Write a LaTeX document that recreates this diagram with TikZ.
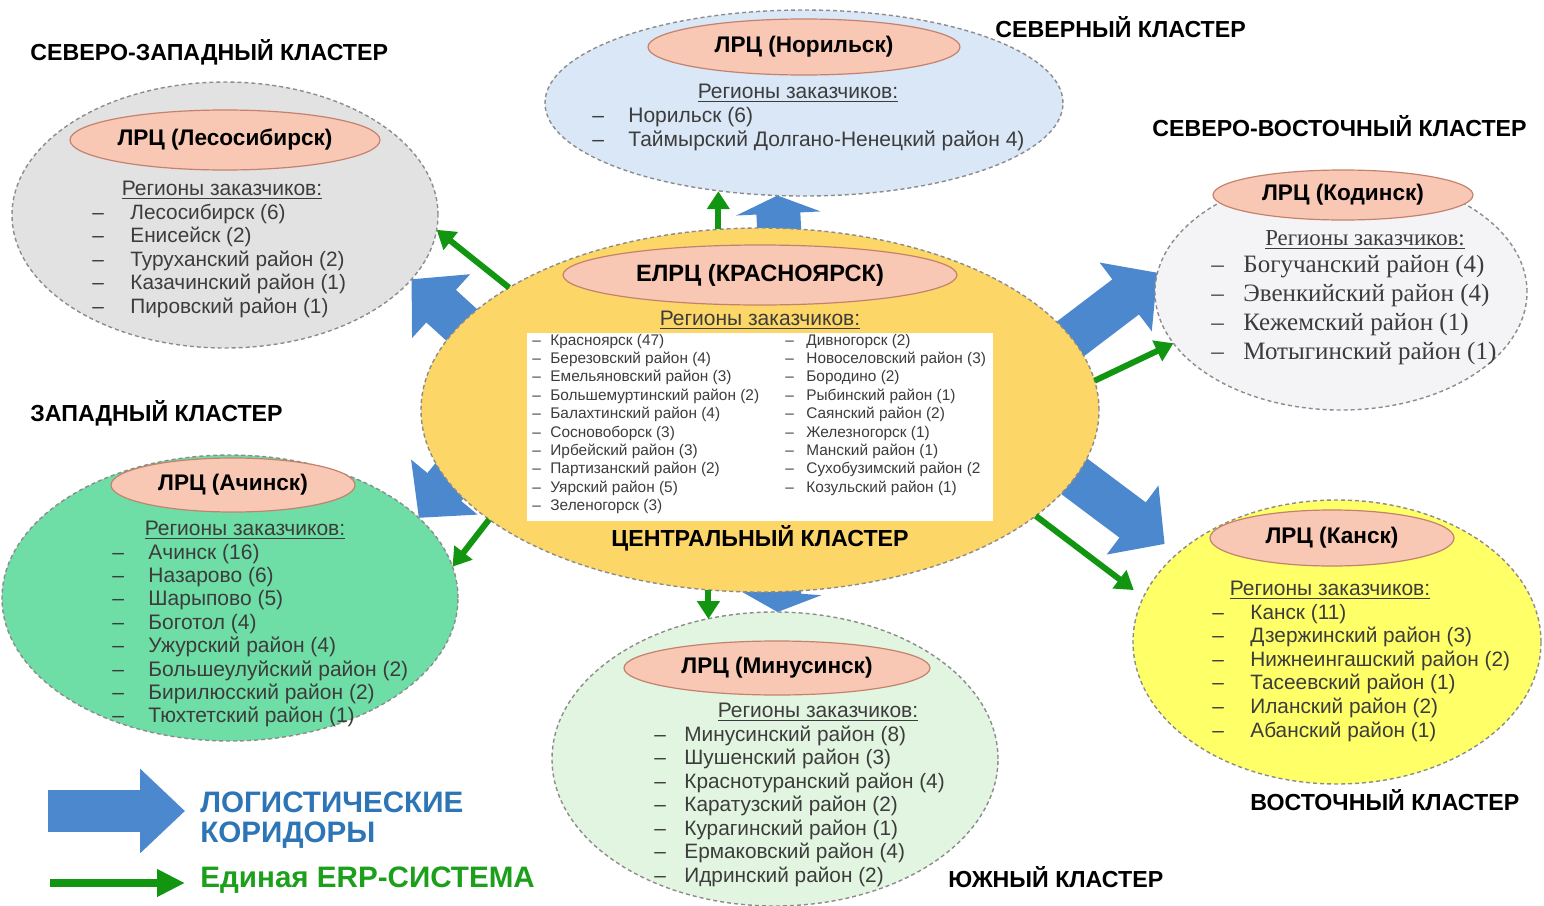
\documentclass[tikz,border=0pt]{standalone}
\usepackage{fontspec}
\setmainfont{Liberation Sans}
\newfontfamily\timesru{Liberation Serif}
\usetikzlibrary{positioning,arrows.meta,backgrounds,shapes.geometric}

\definecolor{fillNW}{RGB}{226,226,226}
\definecolor{fillN}{RGB}{218,231,246}
\definecolor{fillNE}{RGB}{244,244,246}
\definecolor{fillCen}{RGB}{253,214,104}
\definecolor{fillW}{RGB}{110,221,166}
\definecolor{fillS}{RGB}{226,245,224}
\definecolor{fillE}{RGB}{255,255,104}
\definecolor{pinkFill}{RGB}{248,200,180}
\definecolor{pinkLine}{RGB}{196,130,110}
\definecolor{clLine}{RGB}{140,140,140}
\definecolor{txGrey}{RGB}{60,60,60}
\definecolor{arBlue}{RGB}{76,136,206}
\definecolor{arGreen}{RGB}{18,150,18}
\definecolor{txBlue}{RGB}{46,117,182}
\definecolor{txGreen}{RGB}{28,160,28}

\newcommand{\itm}[2][15pt]{\makebox[#1][l]{–}#2}
\newcommand{\rows}[1]{\begin{tabular}[t]{@{}l@{}}#1\end{tabular}}

\begin{document}
\begin{tikzpicture}[x=0.5pt, y=-0.5pt,
  cluster/.style={ellipse, draw=clLine, line width=0.7pt, dash pattern=on 2pt off 1.5pt, inner sep=0pt, outer sep=0pt},
  lrc/.style={ellipse, draw=pinkLine, fill=pinkFill, line width=0.6pt, inner sep=1pt, font=\fontsize{11.3}{13}\selectfont\bfseries},
  hdr/.style={inner sep=0pt, text=txGrey, font=\fontsize{10.5}{12}\selectfont},
  lst/.style={anchor=base west, inner sep=0pt, text=txGrey, font=\fontsize{10.4}{11.75}\selectfont},
  cname/.style={anchor=west, inner sep=0pt, font=\fontsize{11.6}{13}\selectfont\bfseries},
  corridor/.style={draw=arBlue, line width=22pt, shorten <=-30pt, -{Triangle[length=#1,width=42pt]}},
  corridor/.default=20pt,
  erp/.style={draw=arGreen, line width=3pt, -{Triangle[length=9pt,width=11pt]}}
]
\useasboundingbox (0,0) rectangle (1544,906);

\node[cluster, fill=fillNW, minimum width=213pt, minimum height=133pt] (nw) at (225,215) {};
\node[cluster, fill=fillN, minimum width=259pt, minimum height=93pt] (nor) at (804,103) {};
\node[cluster, fill=fillNE, minimum width=186pt, minimum height=118pt] (ne) at (1341,292) {};
\node[cluster, fill=fillCen, minimum width=339pt, minimum height=182pt] (cen) at (760,410) {};
\node[cluster, fill=fillW, minimum width=228pt, minimum height=143pt] (wst) at (230,598) {};
\node[cluster, fill=fillS, minimum width=223pt, minimum height=147pt] (sou) at (775,759) {};
\node[cluster, fill=fillE, minimum width=204pt, minimum height=142pt] (est) at (1337,642) {};

\node[cname] (nwN) at (30,52) {СЕВЕРО-ЗАПАДНЫЙ КЛАСТЕР};
\node[cname] (norN) at (995,27) {СЕВЕРНЫЙ КЛАСТЕР};
\node[cname] (neN) at (1152,126) {СЕВЕРО-ВОСТОЧНЫЙ КЛАСТЕР};
\node[cname] (wstN) at (30,413) {ЗАПАДНЫЙ КЛАСТЕР};
\node[cname] (souN) at (948,877) {ЮЖНЫЙ КЛАСТЕР};
\node[cname] (estN) at (1250,800) {ВОСТОЧНЫЙ КЛАСТЕР};
\node[cname, anchor=center] (cenN) at (760,538) {ЦЕНТРАЛЬНЫЙ КЛАСТЕР};

\node[lrc, minimum width=155pt, minimum height=30pt] (nwL) at (225,140) {ЛРЦ (Лесосибирск)};
\node[lrc, minimum width=156pt, minimum height=28pt] (norL) at (804,47) {ЛРЦ (Норильск)};
\node[lrc, minimum width=130pt, minimum height=25pt] (neL) at (1343,195) {ЛРЦ (Кодинск)};
\node[lrc, minimum width=197pt, minimum height=30pt, font=\fontsize{11.8}{13}\selectfont\bfseries] (cenL) at (760,275) {ЕЛРЦ (КРАСНОЯРСК)};
\node[lrc, minimum width=122pt, minimum height=27pt] (wstL) at (233,485) {ЛРЦ (Ачинск)};
\node[lrc, minimum width=153pt, minimum height=27pt] (souL) at (777,668) {ЛРЦ (Минусинск)};
\node[lrc, minimum width=122pt, minimum height=28pt] (estL) at (1332,538) {ЛРЦ (Канск)};

\node[hdr] (nwH) at (222,190) {\underline{Регионы заказчиков:}};
\node[hdr] (norH) at (798,93) {\underline{Регионы заказчиков:}};
\node[hdr, font=\timesru\fontsize{11.4}{13}\selectfont] (neH) at (1365,240) {\underline{Регионы заказчиков:}};
\node[hdr] (cenH) at (760,320) {\underline{Регионы заказчиков:}};
\node[hdr] (wstH) at (245,530) {\underline{Регионы заказчиков:}};
\node[hdr] (souH) at (818,712) {\underline{Регионы заказчиков:}};
\node[hdr] (estH) at (1330,590) {\underline{Регионы заказчиков:}};

\node[lst] (nwR) at (92,219) {\rows{\itm[19pt]{Лесосибирск (6)}\\ \itm[19pt]{Енисейск (2)}\\
  \itm[19pt]{Туруханский район (2)}\\ \itm[19pt]{Казачинский район (1)}\\ \itm[19pt]{Пировский район (1)}}};
\node[lst, font=\fontsize{10.5}{12}\selectfont] (norR) at (592,122) {\rows{\itm[18pt]{Норильск (6)}\\
  \itm[18pt]{Таймырский Долгано-Ненецкий район 4)}}};
\node[lst, font=\timesru\fontsize{12.5}{14.5}\selectfont] (neR) at (1211,272) {\rows{\itm[16pt]{Богучанский район (4)}\\
  \itm[16pt]{Эвенкийский район (4)}\\ \itm[16pt]{Кежемский район (1)}\\ \itm[16pt]{Мотыгинский район (1)}}};
\node[lst, font=\fontsize{10.5}{11.7}\selectfont] (wstR) at (112,559) {\rows{\itm[18pt]{Ачинск (16)}\\ \itm[18pt]{Назарово (6)}\\
  \itm[18pt]{Шарыпово (5)}\\ \itm[18pt]{Боготол (4)}\\ \itm[18pt]{Ужурский район (4)}\\
  \itm[18pt]{Большеулуйский район (2)}\\ \itm[18pt]{Бирилюсский район (2)}\\ \itm[18pt]{Тюхтетский район (1)}}};
\node[lst] (souR) at (654,741) {\rows{\itm[15pt]{Минусинский район (8)}\\ \itm[15pt]{Шушенский район (3)}\\
  \itm[15pt]{Краснотуранский район (4)}\\ \itm[15pt]{Каратузский район (2)}\\ \itm[15pt]{Курагинский район (1)}\\
  \itm[15pt]{Ермаковский район (4)}\\ \itm[15pt]{Идринский район (2)}}};
\node[lst, font=\fontsize{10.4}{11.8}\selectfont] (estR) at (1212,619) {\rows{\itm[19pt]{Канск (11)}\\ \itm[19pt]{Дзержинский район (3)}\\
  \itm[19pt]{Нижнеингашский район (2)}\\ \itm[19pt]{Тасеевский район (1)}\\ \itm[19pt]{Иланский район (2)}\\
  \itm[19pt]{Абанский район (1)}}};

\node[fill=white, inner sep=0pt, minimum width=233pt, minimum height=94pt] (cenBox) at (760,427) {};
\node[lst, font=\fontsize{7.7}{9.2}\selectfont] (cenR1) at (532,345) {\rows{\itm[9pt]{Красноярск (47)}\\
  \itm[9pt]{Березовский район (4)}\\ \itm[9pt]{Емельяновский район (3)}\\ \itm[9pt]{Большемуртинский район (2)}\\
  \itm[9pt]{Балахтинский район (4)}\\ \itm[9pt]{Сосновоборск (3)}\\ \itm[9pt]{Ирбейский район (3)}\\
  \itm[9pt]{Партизанский район (2)}\\ \itm[9pt]{Уярский район (5)}\\ \itm[9pt]{Зеленогорск (3)}}};
\node[lst, font=\fontsize{7.7}{9.2}\selectfont] (cenR2) at (785,345) {\rows{\itm[10.5pt]{Дивногорск (2)}\\
  \itm[10.5pt]{Новоселовский район (3)}\\ \itm[10.5pt]{Бородино (2)}\\ \itm[10.5pt]{Рыбинский район (1)}\\
  \itm[10.5pt]{Саянский район (2)}\\ \itm[10.5pt]{Железногорск (1)}\\ \itm[10.5pt]{Манский район (1)}\\
  \itm[10.5pt]{Сухобузимский район (2}\\ \itm[10.5pt]{Козульский район (1)}}};

\begin{pgfonlayer}{background}
\draw[corridor=9pt] (cen.84.66) -- (nor.-106.3);
\draw[corridor] (cen.164.68) -- (nw.-19.26);
\draw[corridor] (cen.13.03) -- (ne.174.8);
\draw[corridor] (cen.193.64) -- (wst.23.05);
\draw[corridor, shorten >=8pt] (cen.-12.93) -- (est.151.37);
\draw[corridor=10pt] (cen.-84.66) -- (sou.89.2);
\end{pgfonlayer}

\draw[erp] (cen.103.7) -- (cen.103.7 |- nor.-133.4);
\draw[erp] (cen.154.62) -- (nw.-4.05);
\draw[erp] (cen.5.39) -- (ne.-163.92);
\draw[erp, shorten >=6pt] (cen.-21.38) -- (est.167.1);
\draw[erp] (cen.-106.73) -- (cen.-106.73 |- sou.116.27);
\draw[erp] (cen.202.76) -- (wst.8.96);

\coordinate (legA) at (48,811);
\coordinate (legAt) at (185,811);
\draw[draw=arBlue, line width=21pt, -{Triangle[length=22.5pt,width=41pt]}] (legA) -- (legAt);
\coordinate (legG) at (50,883);
\coordinate (legGt) at (185,883);
\draw[erp, line width=4pt, -{Triangle[length=14pt,width=13pt]}] (legG) -- (legGt);
\node[anchor=west, align=left, inner sep=0pt, text=txBlue, font=\fontsize{14.8}{15}\selectfont\bfseries] (legAtxt) at (200,820) {ЛОГИСТИЧЕСКИЕ\\КОРИДОРЫ};
\node[anchor=west, inner sep=0pt, text=txGreen, font=\fontsize{14.8}{15}\selectfont\bfseries] (legGtxt) at (200,880) {Единая ERP-СИСТЕМА};
\end{tikzpicture}
\end{document}
